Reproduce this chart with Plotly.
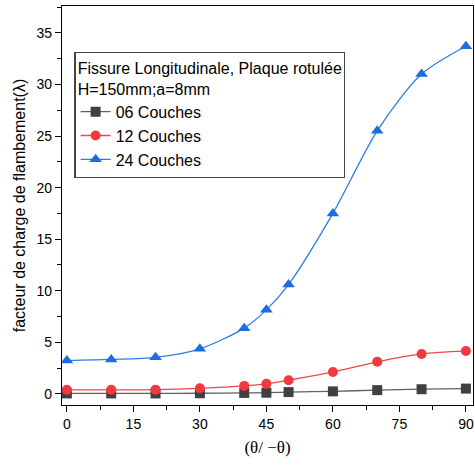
import plotly.graph_objects as go

# Fibre orientation angle (θ/−θ), degrees
angles = [0, 10, 20, 30, 40, 45, 50, 60, 70, 80, 90]

# Buckling load factor (λ) per number of layers
couches_06 = [0.05, 0.05, 0.05, 0.07, 0.10, 0.12, 0.18, 0.25, 0.37, 0.46, 0.52]
couches_12 = [0.40, 0.40, 0.42, 0.55, 0.78, 0.98, 1.33, 2.13, 3.12, 3.88, 4.17]
couches_24 = [3.25, 3.35, 3.55, 4.38, 6.38, 8.15, 10.6, 17.5, 25.5, 31.0, 33.7]

series_names = ["06 Couches", "12 Couches", "24 Couches"]
legend_title = "Fissure Longitudinale, Plaque rotulée<br>H=150mm;a=8mm"
x_title = "(θ/ −θ)"
y_title = "facteur de charge de flambement(λ)"
x_ticks = [0, 15, 30, 45, 60, 75, 90]
y_ticks = [0, 5, 10, 15, 20, 25, 30, 35]

FONT = "Liberation Sans, Arial, sans-serif"

fig = go.Figure()
styles = [
    (couches_06, "#404040", "#606060", "square"),
    (couches_12, "#ef3b3f", "#f0464a", "circle"),
    (couches_24, "#1c6de0", "#2b7de8", "triangle-up"),
]
for (vals, mcol, lcol, sym), name in zip(styles, series_names):
    fig.add_trace(go.Scatter(
        x=angles, y=vals, name=name, mode="lines+markers",
        line=dict(color=lcol, width=1.3, shape="spline", smoothing=0.8),
        marker=dict(color=mcol, symbol=sym, size=10 if sym != "triangle-up" else 11,
                    line=dict(width=0)),
    ))

axis_common = dict(
    showline=True, linecolor="black", linewidth=1.3, mirror=True,
    ticks="outside", ticklen=6, tickwidth=1.2, tickcolor="black",
    showgrid=False, zeroline=False,
    tickfont=dict(family=FONT, size=14, color="black"),
)

fig.update_xaxes(
    range=[-1.1, 91.6], tickvals=x_ticks,
    minor=dict(dtick=7.5, tick0=0, ticks="outside", ticklen=4, tickcolor="black"),
    title=dict(text=x_title, font=dict(family="Liberation Serif, Times New Roman, serif",
                                        size=17, color="black"), standoff=10),
    **axis_common,
)
fig.update_yaxes(
    range=[-1.07, 37.6], tickvals=y_ticks,
    minor=dict(dtick=2.5, tick0=0, ticks="outside", ticklen=4, tickcolor="black"),
    title=dict(text=y_title, font=dict(family=FONT, size=16, color="black"), standoff=6),
    **axis_common,
)

fig.update_layout(
    width=475, height=471,
    margin=dict(l=62, r=2, t=6, b=66),
    plot_bgcolor="white", paper_bgcolor="white",
    font=dict(family=FONT, size=16, color="black"),
    legend=dict(
        title=dict(text=legend_title, font=dict(family=FONT, size=16, color="black")),
        x=0.03, y=0.885, xanchor="left", yanchor="top",
        bordercolor="#444444", borderwidth=1.3, bgcolor="white",
        font=dict(family=FONT, size=16, color="black"),
        tracegroupgap=0, itemwidth=30,
    ),
)

fig.write_html("out.html")
